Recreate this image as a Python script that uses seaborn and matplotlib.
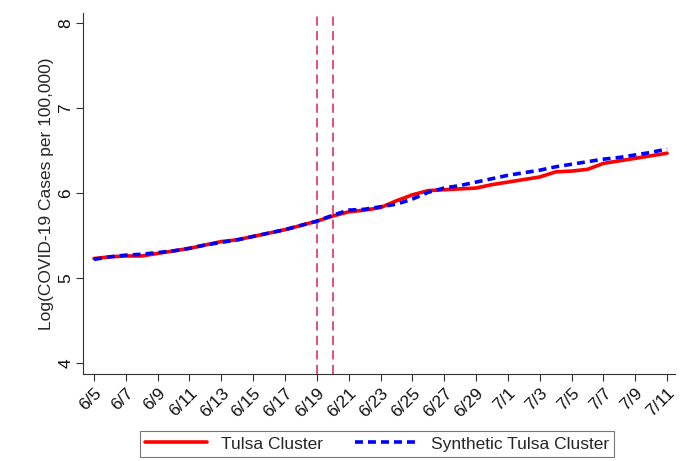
import numpy as np
import pandas as pd
import matplotlib
matplotlib.use("Agg")
import matplotlib.pyplot as plt
import seaborn as sns

dates = ["6/5","6/6","6/7","6/8","6/9","6/10","6/11","6/12","6/13","6/14","6/15","6/16",
         "6/17","6/18","6/19","6/20","6/21","6/22","6/23","6/24","6/25","6/26","6/27","6/28",
         "6/29","6/30","7/1","7/2","7/3","7/4","7/5","7/6","7/7","7/8","7/9","7/10","7/11"]
tulsa = [5.23,5.25,5.26,5.26,5.29,5.32,5.35,5.39,5.43,5.45,5.49,5.53,
         5.57,5.62,5.67,5.73,5.78,5.80,5.83,5.91,5.98,6.03,6.04,6.05,
         6.06,6.10,6.13,6.16,6.19,6.25,6.26,6.28,6.35,6.38,6.41,6.44,6.47]
synthetic = [5.22,5.25,5.27,5.28,5.30,5.32,5.35,5.39,5.42,5.45,5.49,5.53,
             5.57,5.62,5.67,5.74,5.80,5.81,5.84,5.87,5.93,6.01,6.06,6.09,
             6.13,6.17,6.21,6.24,6.27,6.31,6.34,6.37,6.40,6.42,6.45,6.48,6.52]
series_names = ["Tulsa Cluster", "Synthetic Tulsa Cluster"]
vlines = ["6/19", "6/20"]
yticks = [4, 5, 6, 7, 8]
ylabel = "Log(COVID-19 Cases per 100,000)"

sns.set_style("ticks")
plt.rcParams['font.family'] = ['Liberation Sans', 'DejaVu Sans']

df = pd.DataFrame({
    "idx": list(range(len(dates))) * 2,
    "value": tulsa + synthetic,
    "series": [series_names[0]] * len(dates) + [series_names[1]] * len(dates),
})

FS = 12.5
fig = plt.figure(figsize=(6.87, 4.61), dpi=100)
ax = fig.add_axes([83/687, 1-374/461, (675-83)/687, (374-12.7)/461])

sns.lineplot(data=df, x="idx", y="value", hue="series", style="series",
             palette={series_names[0]: "#ff0000", series_names[1]: "#0000ff"},
             dashes={series_names[0]: "", series_names[1]: (2.2, 1.4)},
             linewidth=2.6, ax=ax, legend=True)

for v in vlines:
    ax.axvline(dates.index(v), color="#dc1f50", linestyle=(0, (6, 3.5)), linewidth=1.1, zorder=1)

ax.set_xlim(-0.69, 36.5)
ax.set_ylim(3.87, 8.125)
ax.set_xticks(range(0, len(dates), 2))
ax.set_xticklabels(dates[::2], rotation=45, ha="right", rotation_mode="anchor", fontsize=FS)
ax.set_yticks(yticks)
ax.set_yticklabels([str(t) for t in yticks], rotation=90, va="center", fontsize=FS)
ax.set_xlabel("")
ax.set_ylabel(ylabel, fontsize=FS, labelpad=3)
ax.tick_params(axis="both", length=5, width=0.8, color="#333333", labelcolor="#111111")
ax.tick_params(axis="y", pad=2)
for s in ["top", "right"]:
    ax.spines[s].set_visible(False)
for s in ["left", "bottom"]:
    ax.spines[s].set_color("#333333")
    ax.spines[s].set_linewidth(0.8)

handles, labels = ax.get_legend_handles_labels()
leg = ax.legend(handles, labels, loc="center", bbox_to_anchor=(377/687, 1-444/461),
                bbox_transform=fig.transFigure, ncol=2, frameon=True, fancybox=False,
                edgecolor="#555555", fontsize=FS, handlelength=3.6, columnspacing=1.8,
                borderpad=0.3, handletextpad=0.8)
leg.get_frame().set_linewidth(0.8)

fig.savefig("out.png", dpi=100)
